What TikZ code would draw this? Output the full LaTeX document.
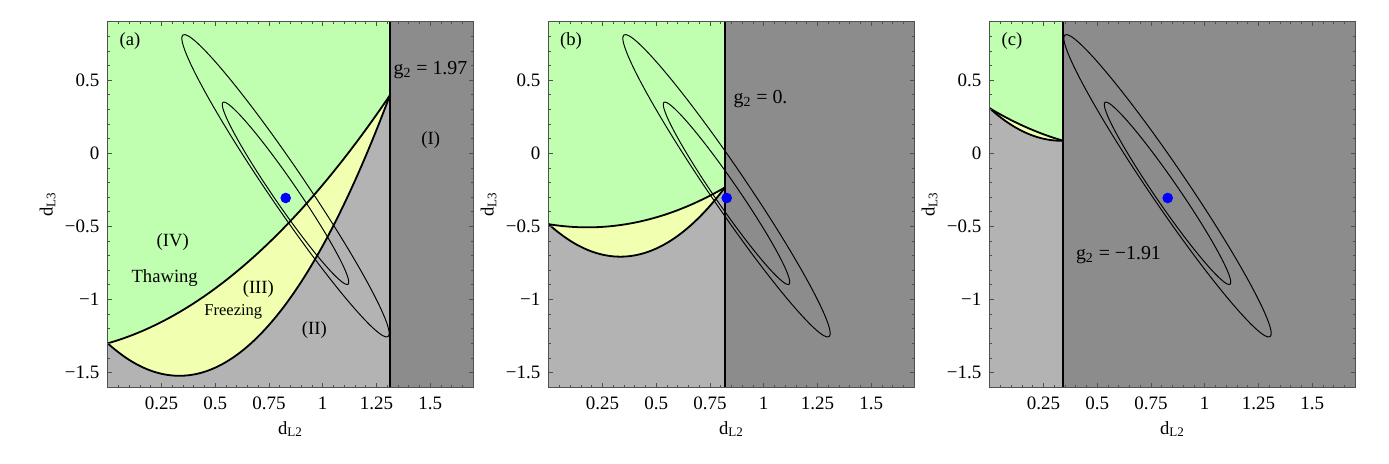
\documentclass[tikz,border=0pt]{standalone}
\usepackage{fontspec}
\setmainfont{Liberation Serif}
\definecolor{thaw}{RGB}{192,255,176}
\definecolor{freeze}{RGB}{240,255,176}
\definecolor{lgray}{RGB}{179,179,179}
\definecolor{dgray}{RGB}{140,140,140}
\definecolor{framec}{RGB}{80,80,80}
\tikzset{
 bound/.style={line width=0.036cm, black},
 gline/.style={line width=0.04cm, black},
 contour/.style={line width=0.55pt, black},
 framebox/.style={line width=0.55pt, framec},
 tickmark/.style={line width=0.45pt, framec},
 ticklab/.style={inner sep=0pt, font=\fontsize{10.8}{12}\selectfont},
 lab/.style={inner sep=0pt, font=\fontsize{10.6}{12}\selectfont},
 smalllab/.style={inner sep=0pt, font=\fontsize{9.4}{11}\selectfont},
 glab/.style={inner sep=0pt, anchor=base west, font=\fontsize{11.3}{13}\selectfont},
}
\newcommand\drawpanel[5]{%
\begin{scope}[shift={(#1,309.7)}]
 \begin{scope}[x=4.3cm,y=2.924cm]
  \fill[dgray] (0,-1.6) rectangle (1.7,0.9);
  \fill[lgray] (0,-1.6) rectangle (#2,0.9);
  \fill[thaw] (0,0.9) -- (0,#3) -- plot[domain=0:#2,samples=80] (\x,{2/3*\x*\x+4/3*(#2-1)*\x+(#3)}) -- (#2,0.9) -- cycle;
  \fill[freeze] plot[domain=0:#2,samples=80] (\x,{2/3*\x*\x+4/3*(#2-1)*\x+(#3)}) -- plot[domain=#2:0,samples=80] (\x,{2*\x*\x-4/3*\x+(#3)}) -- cycle;
  \draw[bound] plot[domain=0:#2,samples=80] (\x,{2/3*\x*\x+4/3*(#2-1)*\x+(#3)});
  \draw[bound] plot[domain=0:#2,samples=80] (\x,{2*\x*\x-4/3*\x+(#3)});
 \end{scope}
 \draw[contour, rotate around={-55.8:(177.8,-32.5)}] (177.8,-32.5) ellipse [x radius=182.4, y radius=18.6];
 \draw[contour, rotate around={-55.5:(177.8,-40)}] (177.8,-40) ellipse [x radius=110.4, y radius=11.8];
 \draw[gline] ({#2*215},-233.92) -- ({#2*215},131.58);
 \fill[blue] (178,-44.7) circle (5.3);
 \foreach \k in {1,...,33} {\draw[tickmark] ({\k*10.75},-233.92) -- ++(0,2) ({\k*10.75},131.58) -- ++(0,-2);}
 \foreach \k in {1,...,6} {\draw[tickmark] ({\k*53.75},-233.92) -- ++(0,3.8) ({\k*53.75},131.58) -- ++(0,-3.8);}
 \foreach \k in {1,...,24} {\draw[tickmark] (0,{-233.92+\k*14.62}) -- ++(2,0) (365.5,{-233.92+\k*14.62}) -- ++(-2,0);}
 \foreach \k in {1,6,11,16,21} {\draw[tickmark] (0,{-233.92+\k*14.62}) -- ++(3.8,0) (365.5,{-233.92+\k*14.62}) -- ++(-3.8,0);}
 \draw[framebox] (0,-233.92) rectangle (365.5,131.58);
 \foreach \v/\t [count=\i] in {0.25/0.25,0.5/0.5,0.75/0.75,1/1,1.25/1.25,1.5/1.5}
   {\node[ticklab, anchor=base] (xt#4\i) at ({\v*215},-256.7) {\t};}
 \foreach \v/\t [count=\i] in {0.5/0.5,0/0,-0.5/−0.5,-1/−1,-1.5/−1.5}
   {\node[ticklab, anchor=east] (yt#4\i) at (-8,{\v*146.2}) {\t};}
 \node[lab, anchor=base] (xl#4) at (182.8,-280.7) {d\textsubscript{L2}};
 \node[lab, anchor=base, rotate=90] (yl#4) at (-55.2,-51.2) {d\textsubscript{L3}};
 \node[lab] (pl#4) at (22.3,112.6) {(#4)};
 #5
\end{scope}}
\begin{document}
\begin{tikzpicture}[x=0.02cm,y=0.02cm]
\useasboundingbox (0,0) rectangle (1389,463);
\drawpanel{107.7}{1.313}{-1.30}{a}{%
 \node[glab] (ga) at (285.6,79) {g\textsubscript{2} = 1.97};
 \node[lab] (r4) at (65,-89) {(IV)};
 \node[lab] (thaw) at (57,-124.4) {Thawing};
 \node[lab] (r3) at (150.6,-136) {(III)};
 \node[smalllab] (frz) at (125.6,-159) {Freezing};
 \node[lab] (r2) at (206.6,-176.7) {(II)};
 \node[lab] (r1) at (323,13.3) {(I)};
}
\drawpanel{548.7}{0.820}{-0.485}{b}{%
 \node[glab] (gb) at (184.6,50) {g\textsubscript{2} = 0.};
}
\drawpanel{989.7}{0.342}{0.308}{c}{%
 \node[glab] (gc) at (86,-106) {g\textsubscript{2} = −1.91};
}
\end{tikzpicture}
\end{document}
